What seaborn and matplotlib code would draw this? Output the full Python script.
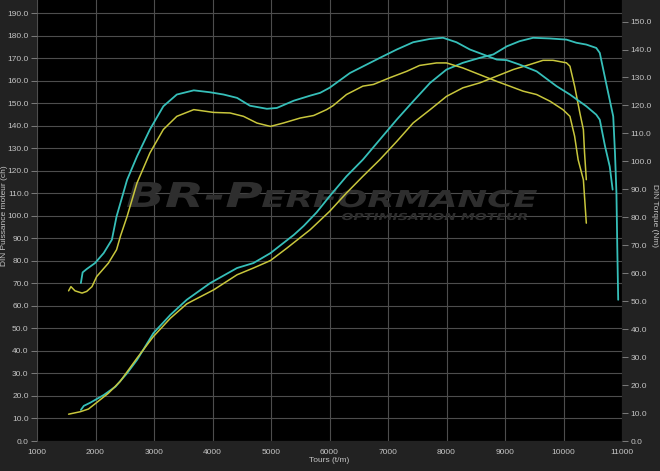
#!/usr/bin/env python3

import matplotlib
matplotlib.use("Agg")
import matplotlib.pyplot as plt
import seaborn as sns
from matplotlib.textpath import TextPath
from matplotlib.patches import PathPatch
from matplotlib.font_manager import FontProperties
from matplotlib.transforms import Affine2D

# --- Data ---
# Puissance (ch), left axis
rpm_power_tuned = [1750, 1800, 1910, 2140, 2340, 2540, 2710, 2990, 3280, 3560, 3960, 4420, 4700,
                   4990, 5390, 5560, 5780, 6000, 6290, 6570, 6860, 7150, 7430, 7720, 8000, 8280,
                   8570, 8800, 9030, 9250, 9480, 9770, 10050, 10220, 10390, 10560, 10620, 10680,
                   10740, 10850, 10880, 10905, 10920, 10935]
power_tuned = [13.8, 15.6, 17.0, 20.4, 24.1, 30.1, 36.0, 47.9, 56.0, 62.7, 70.1, 76.8, 79.0,
               83.4, 91.5, 95.5, 101.5, 108.6, 117.5, 124.9, 133.8, 142.7, 150.8, 159.0, 164.9, 167.9,
               170.1, 171.6, 175.2, 177.5, 179.0, 178.7, 178.2, 176.8, 176.0, 174.5, 172.3, 164.9,
               157.5, 144.1, 127.9, 110.0, 85.0, 62.7]

rpm_power_stock = [1540, 1740, 1880, 2220, 2420, 2710, 2990, 3280, 3560, 4020, 4420, 4700, 4990,
                   5270, 5670, 6000, 6290, 6570, 6860, 7150, 7430, 7720, 8000, 8280, 8570, 8850,
                   9140, 9420, 9650, 9820, 10050, 10110, 10190, 10280, 10340, 10360, 10390]
power_stock = [11.9, 13.0, 14.2, 21.2, 26.4, 36.8, 46.4, 54.5, 60.9, 67.1, 73.8, 76.8, 80.1,
               85.6, 93.8, 101.9, 110.1, 117.5, 124.9, 133.0, 141.2, 147.1, 153.0, 156.8, 159.0, 161.9,
               164.9, 167.1, 169.0, 169.0, 167.9, 166.4, 157.5, 145.6, 138.2, 127.9, 116.0]

# Couple (Nm), right axis
rpm_torque_tuned = [1750, 1780, 1850, 1990, 2140, 2280, 2360, 2540, 2710, 2930, 3160, 3390, 3680,
                    3960, 4190, 4420, 4640, 4930, 5100, 5390, 5670, 5840, 6000, 6350, 6860, 7150,
                    7430, 7720, 7940, 8170, 8400, 8630, 8860, 9030, 9250, 9540, 9880, 10110, 10390,
                    10560, 10620, 10710, 10790, 10840]
torque_tuned = [56.5, 60.3, 61.5, 63.6, 67.2, 72.0, 80.3, 93.4, 101.8, 111.4, 119.7, 123.9, 125.4,
                124.7, 123.9, 122.7, 119.9, 118.8, 119.1, 121.7, 123.5, 124.5, 126.3, 131.6, 137.0, 140.0,
                142.6, 143.8, 144.2, 142.6, 140.0, 138.2, 136.4, 136.2, 134.6, 132.2, 126.9, 123.9, 119.7,
                116.7, 114.9, 105.4, 98.2, 89.9]

rpm_torque_stock = [1540, 1580, 1650, 1770, 1850, 1940, 2020, 2220, 2360, 2430, 2540, 2710, 2930,
                    3160, 3390, 3680, 4020, 4300, 4530, 4760, 4990, 5210, 5500, 5730, 5950, 6060,
                    6290, 6570, 6750, 7030, 7320, 7540, 7830, 8000, 8280, 8570, 8860, 9080, 9310,
                    9540, 9770, 9990, 10110, 10190, 10250, 10340, 10390]
torque_stock = [53.7, 55.2, 53.7, 52.9, 53.5, 55.2, 58.8, 63.6, 68.4, 73.5, 80.3, 92.3, 103.0,
                111.4, 116.1, 118.5, 117.5, 117.3, 116.1, 113.7, 112.5, 113.7, 115.5, 116.4, 118.5, 119.9,
                123.9, 126.9, 127.5, 129.9, 132.2, 134.3, 135.2, 135.2, 133.4, 131.0, 128.6, 126.9, 125.1,
                123.9, 121.5, 118.5, 116.1, 109.0, 100.6, 93.4, 77.9]

x_ticks = list(range(1000, 11001, 1000))
left_ticks = list(range(0, 201, 10))
right_ticks = list(range(0, 161, 10))

# --- Style ---
CYAN = '#36bfb9'
YELLOW = '#c8c63c'
TEXT = '#c4c4c4'
GRID = '#4d4d4d'
WATERMARK = '#2e2e2e'

sns.set_style("dark")
plt.rcParams['font.family'] = ['Liberation Sans', 'DejaVu Sans']

fig = plt.figure(figsize=(6.6, 4.71), dpi=100, facecolor='#222222')
ax = fig.add_axes([37 / 660, 30 / 471, 585 / 660, 450.5 / 471])
ax.set_facecolor('black')
ax2 = ax.twinx()


def add_watermark(ax, text, left, right, baseline, cap_height):
    """Stretched logo text, placed in output pixels (origin bottom-left)."""
    fp = FontProperties(family='DejaVu Sans', weight='bold', style='italic')
    path = TextPath((0, 0), text, size=1, prop=fp)
    ext = path.get_extents()
    sx = (right - left) / ext.width
    sy = cap_height / 0.73
    tr = Affine2D().translate(-ext.x0, 0).scale(sx, sy).translate(left, baseline)
    ax.add_patch(PathPatch(path, transform=tr, facecolor=WATERMARK, edgecolor='none', zorder=1))


# watermark behind the curves
add_watermark(ax, "BR-P", 127, 262, 471 - 207, 25)
add_watermark(ax, "ERFORMANCE", 262, 537, 471 - 207, 17)
add_watermark(ax, "OPTIMISATION MOTEUR", 342, 527, 471 - 220, 7)

# power on the left axis
sns.lineplot(x=rpm_power_tuned, y=power_tuned, ax=ax, color=CYAN, linewidth=1.3,
             sort=False, estimator=None, legend=False, zorder=3)
sns.lineplot(x=rpm_power_stock, y=power_stock, ax=ax, color=YELLOW, linewidth=1.1,
             sort=False, estimator=None, legend=False, zorder=3)
# torque on the right axis
sns.lineplot(x=rpm_torque_tuned, y=torque_tuned, ax=ax2, color=CYAN, linewidth=1.3,
             sort=False, estimator=None, legend=False)
sns.lineplot(x=rpm_torque_stock, y=torque_stock, ax=ax2, color=YELLOW, linewidth=1.1,
             sort=False, estimator=None, legend=False)

# --- Axes ---
ax.set_xlim(1000, 11000)
ax.set_ylim(0, 200)
ax2.set_ylim(0, 161.1)
ax.set_xticks(x_ticks)
ax.set_yticks(left_ticks)
ax2.set_yticks(right_ticks)
ax.set_yticklabels([f"{v:.1f}" for v in left_ticks])
ax2.set_yticklabels([f"{v:.1f}" for v in right_ticks])

ax.grid(True, color=GRID, linewidth=0.8)
ax2.grid(False)
for a in (ax, ax2):
    for s in a.spines.values():
        s.set_visible(False)
    a.tick_params(colors='#8a8a8a', labelcolor=TEXT, labelsize=6, length=4, width=0.6, pad=2)

ax.set_xlabel("Tours (t/m)", color=TEXT, fontsize=6)
ax.set_ylabel("DIN Puissance moteur (ch)", color=TEXT, fontsize=6)
ax2.set_ylabel("DIN Torque (Nm)", color=TEXT, fontsize=6, rotation=270)
ax.xaxis.set_label_coords(0.5, -0.035)
ax.yaxis.set_label_coords(-0.05, 0.5)
ax2.yaxis.set_label_coords(1.062, 0.5)

fig.savefig('out.png', dpi=100, facecolor=fig.get_facecolor())
